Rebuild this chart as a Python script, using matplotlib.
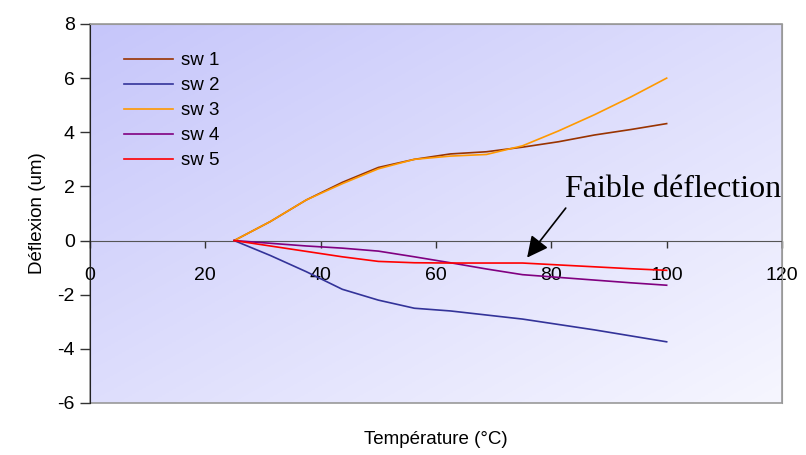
import numpy as np
import matplotlib.pyplot as plt
from matplotlib.patches import Rectangle
from matplotlib.colors import LinearSegmentedColormap

# data
temperature = [25, 31.25, 37.5, 43.75, 50, 56.25, 62.5, 68.75, 75, 81.25, 87.5, 93.75, 100]
sw1 = [0, 0.7, 1.5, 2.15, 2.7, 3.0, 3.2, 3.28, 3.45, 3.65, 3.9, 4.1, 4.32]
sw2 = [0, -0.55, -1.15, -1.8, -2.2, -2.5, -2.6, -2.75, -2.9, -3.1, -3.3, -3.52, -3.74]
sw3 = [0, 0.7, 1.5, 2.1, 2.65, 3.0, 3.12, 3.18, 3.5, 4.05, 4.65, 5.3, 6.0]
sw4 = [0, -0.1, -0.2, -0.28, -0.39, -0.6, -0.82, -1.05, -1.26, -1.36, -1.46, -1.56, -1.65]
sw5 = [0, -0.2, -0.4, -0.6, -0.77, -0.82, -0.83, -0.83, -0.83, -0.9, -0.97, -1.04, -1.1]

series = [("sw 1", sw1, "#993300"),
          ("sw 2", sw2, "#333399"),
          ("sw 3", sw3, "#FF9900"),
          ("sw 4", sw4, "#800080"),
          ("sw 5", sw5, "#FF0000")]

plt.rcParams['font.family'] = ['Liberation Sans', 'DejaVu Sans']
plt.rcParams['axes.unicode_minus'] = False

fig = plt.figure(figsize=(8.06, 4.55), dpi=100)
ax = fig.add_axes([0.1117, 0.1143, 0.8585, 0.8330])

# gradient background (lavender top-left -> almost white bottom-right)
cmap = LinearSegmentedColormap.from_list("bg", ["#c6c6fa", "#f6f6ff"])
gx, gy = np.meshgrid(np.linspace(0, 1, 200), np.linspace(0, 1, 200))
grad = (gx + gy) / 2
ax.imshow(grad, cmap=cmap, extent=[0, 1, 0, 1], transform=ax.transAxes,
          aspect='auto', zorder=0, origin='upper')

for name, vals, col in series:
    ax.plot(temperature, vals, color=col, lw=1.2, label=name, zorder=3)

ax.set_xlim(0, 120)
ax.set_ylim(-6, 8)
ax.set_xticks(range(0, 121, 20))
ax.set_yticks(range(-6, 9, 2))

# x axis crosses at y = 0
ax.spines['bottom'].set_position(('data', 0))
ax.spines['bottom'].set_color('#555555')
ax.spines['bottom'].set_zorder(2)
ax.spines['left'].set_color('#222222')
ax.spines['top'].set_color('#999999')
ax.spines['right'].set_color('#999999')
ax.add_patch(Rectangle((0, 0), 1, 1, transform=ax.transAxes, fill=False,
                       edgecolor='#999999', lw=1.2, zorder=1, clip_on=False))

ax.tick_params(axis='x', direction='out', length=5, width=1, color='#333333',
               labelsize=14, pad=14)
ax.tick_params(axis='y', direction='out', length=7, width=1, color='#333333',
               labelsize=14, pad=4)

ax.set_xlabel("Température (°C)", fontsize=13.5)
ax.xaxis.set_label_coords(0.5, -0.075)
ax.set_ylabel("Déflexion (um)", fontsize=13.5, labelpad=8)

leg = ax.legend(loc='upper left', bbox_to_anchor=(0.025, 0.97), frameon=False,
                fontsize=13.5, handlelength=2.6, handletextpad=0.45, labelspacing=0.42)

ax.text(82.3, 1.9, "Faible déflection", fontsize=23, family='Liberation Serif',
        va='center', ha='left', zorder=5)
ax.annotate("", xy=(75.8, -0.63), xytext=(82.5, 1.2),
            arrowprops=dict(arrowstyle='-|>', color='black', lw=1.2,
                            mutation_scale=32, shrinkA=0, shrinkB=0),
            zorder=5)

plt.savefig("out.png", dpi=100)
